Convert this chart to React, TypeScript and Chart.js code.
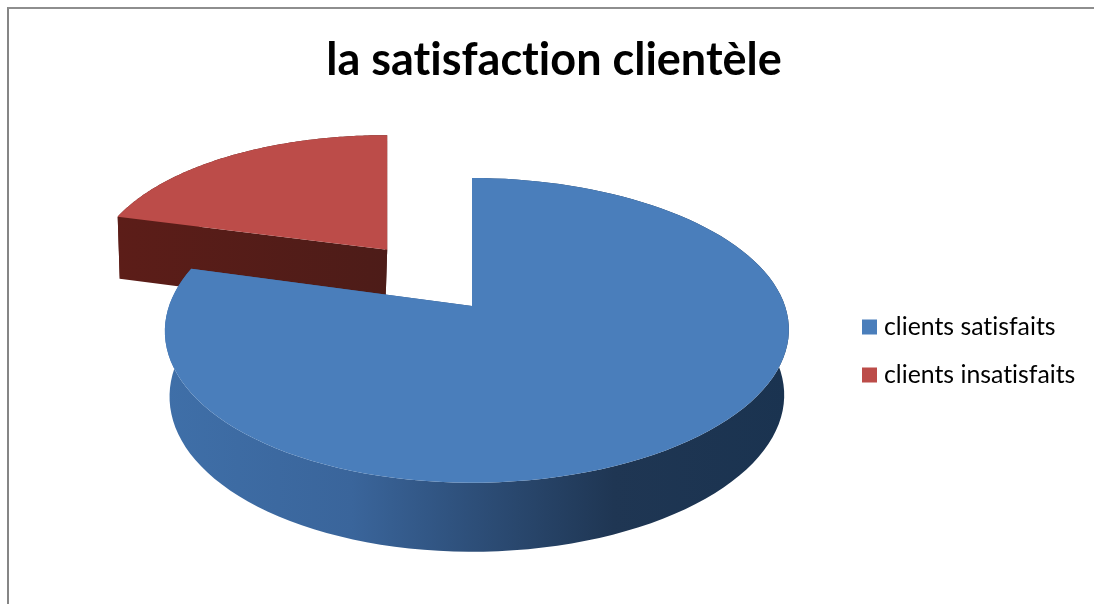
import React, { useEffect, useRef } from "react";
import { Chart, registerables } from "chart.js";

Chart.register(...registerables);

// Chart content
const chartTitle = "la satisfaction clientèle";
const categories = ["clients satisfaits", "clients insatisfaits"];
const shares = [79.2, 20.8];
const sliceColors = ["#4a7ebb", "#bc4c49"];
const sliceOffsets = [0, 148];
const wallStops: [number, string][][] = [
  [[0, "#3f6fa8"], [0.3, "#3a659b"], [0.5, "#2d4e78"], [0.72, "#1f3653"], [1, "#1a3350"]],
  [[0, "#5c1d18"], [1, "#4d1c18"]],
];

// Oblique view of the pie plane
const CENTER_X = 472;
const CENTER_Y = 306;
const RADIUS = 308;
const SQUASH = 0.482;
const PERSPECTIVE = 0.16;
const SKEW = 5;
const FLOOR_SHRINK = 0.985;
const STEPS = 120;
// An exploded slice sits slightly higher and wider than the plain perspective gives
const EXPLODE_WIDEN = 0.035;
const EXPLODE_LIFT = 6;

// Legend placement, right of the pie
const LEGEND_LEFT = 844.2;
const LEGEND_DROP = 49;

type Pt = { x: number; y: number };

const project = (u: number, v: number, ox: number, oy: number): Pt => {
  const depth = v + oy;
  const w = 1 / (1 - PERSPECTIVE * depth);
  const w0 = 1 / (1 - PERSPECTIVE * oy);
  const shift = Math.hypot(ox, oy);
  return {
    x: CENTER_X + RADIUS * (ox * w0 + u * w * (1 + EXPLODE_WIDEN * shift)) + SKEW * u * u,
    y: CENTER_Y + RADIUS * SQUASH * depth * w - EXPLODE_LIFT * shift,
  };
};

const wallHeight = (v: number) => 64.8 + 4.2 * v;

const fillPath = (ctx: CanvasRenderingContext2D, pts: Pt[], fill: string | CanvasGradient) => {
  ctx.beginPath();
  pts.forEach((p, i) => (i ? ctx.lineTo(p.x, p.y) : ctx.moveTo(p.x, p.y)));
  ctx.closePath();
  ctx.fillStyle = fill;
  ctx.fill();
};

// Draws each arc element of the pie as an extruded slice seen from above
const extrudedPie = {
  id: "extrudedPie",
  afterLayout(chart: any) {
    const legend = chart.legend;
    const width = legend.right - legend.left;
    legend.left = LEGEND_LEFT;
    legend.right = LEGEND_LEFT + width;
    legend.top += LEGEND_DROP;
    legend.bottom += LEGEND_DROP;
  },
  beforeDraw(chart: any) {
    // Keeps "ti" as two separate glyphs in every label
    chart.ctx.letterSpacing = "0.01px";
  },
  beforeDatasetDraw(chart: any) {
    const ctx: CanvasRenderingContext2D = chart.ctx;
    const arcs = chart.getDatasetMeta(0).data;
    for (let i = arcs.length - 1; i >= 0; i--) {
      const arc = arcs[i];
      const { startAngle, endAngle } = arc.getProps(["startAngle", "endAngle"], true);
      const mid = (startAngle + endAngle) / 2;
      const shift = arc.options.offset / arc.outerRadius;
      const ox = Math.cos(mid) * shift;
      const oy = Math.sin(mid) * shift;

      const rim: { p: Pt; depth: number }[] = [];
      for (let s = 0; s <= STEPS; s++) {
        const a = startAngle + ((endAngle - startAngle) * s) / STEPS;
        const u = Math.cos(a);
        const v = Math.sin(a);
        rim.push({ p: project(u, v, ox, oy), depth: v + oy });
      }
      const apex = project(0, 0, ox, oy);
      const xs = rim.map((r) => r.p.x).concat(apex.x);
      const minX = Math.min(...xs);
      const maxX = Math.max(...xs);
      const midX = (minX + maxX) / 2;
      const floor = (p: Pt, depth: number): Pt => ({
        x: midX + (p.x - midX) * FLOOR_SHRINK,
        y: p.y + wallHeight(depth),
      });

      const gradient = ctx.createLinearGradient(minX, 0, maxX, 0);
      wallStops[i].forEach(([t, c]) => gradient.addColorStop(t, c));

      const first = rim[0];
      const last = rim[rim.length - 1];
      fillPath(ctx, [first.p, apex, floor(apex, oy), floor(first.p, first.depth)], gradient);
      fillPath(ctx, [last.p, apex, floor(apex, oy), floor(last.p, last.depth)], gradient);
      fillPath(
        ctx,
        [...rim.map((r) => r.p), ...rim.slice().reverse().map((r) => floor(r.p, r.depth))],
        gradient
      );
      fillPath(ctx, [apex, ...rim.map((r) => r.p)], arc.options.backgroundColor);
    }
    return false;
  },
};

export default function App() {
  const canvasRef = useRef<HTMLCanvasElement>(null);

  useEffect(() => {
    const chart = new Chart(canvasRef.current!, {
      type: "pie",
      plugins: [extrudedPie],
      data: {
        labels: categories,
        datasets: [
          {
            data: shares,
            backgroundColor: sliceColors,
            offset: sliceOffsets,
            borderWidth: 0,
            radius: RADIUS,
          } as any,
        ],
      },
      options: {
        animation: false,
        responsive: false,
        rotation: 0,
        layout: { padding: { left: 14 } },
        plugins: {
          title: {
            display: true,
            text: chartTitle,
            color: "#000000",
            font: { family: "Lato", size: 45, weight: "bold" },
            padding: { top: 33, bottom: 16 },
          },
          tooltip: { enabled: false },
          legend: {
            position: "right",
            labels: {
              color: "#111111",
              font: { family: "Lato", size: 24.8 },
              boxWidth: 4.2,
              boxHeight: 4.2,
              padding: 23.2,
              generateLabels: (c: any) =>
                categories.map((text, index) => ({
                  text,
                  index,
                  fillStyle: sliceColors[index],
                  strokeStyle: sliceColors[index],
                  lineWidth: 10.8,
                  hidden: !c.getDataVisibility(index),
                })),
            },
          },
        },
      },
    });
    return () => chart.destroy();
  }, []);

  return (
    <div style={{ position: "fixed", left: 0, top: 0, width: 1094, height: 604, overflow: "hidden", background: "#ffffff" }}>
      <div
        style={{
          position: "absolute",
          left: 7,
          top: 7,
          right: 0,
          bottom: 0,
          borderLeft: "2px solid #868686",
          borderTop: "2px solid #8e8e8e",
        }}
      />
      <canvas ref={canvasRef} width={1094} height={604} style={{ position: "absolute", left: 0, top: 0, display: "block" }} />
    </div>
  );
}
